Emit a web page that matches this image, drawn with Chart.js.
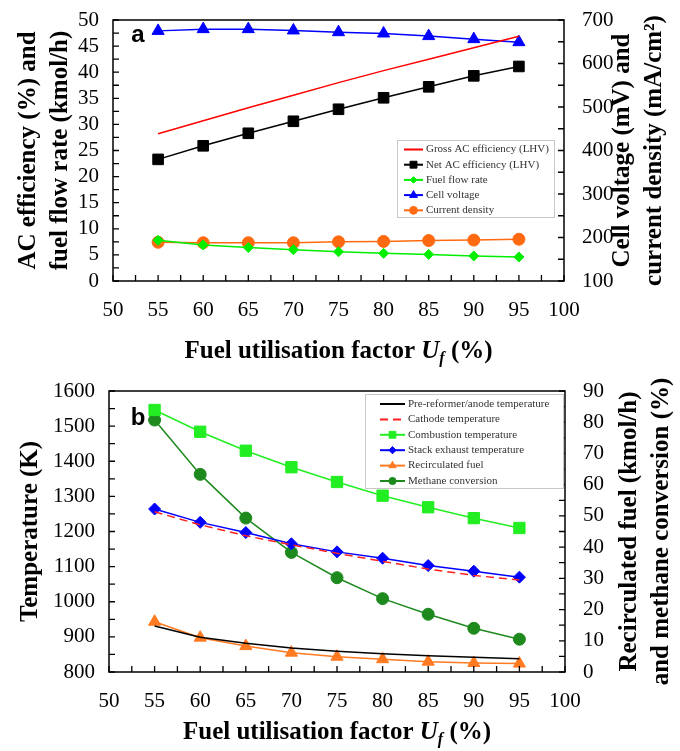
<!DOCTYPE html>
<html lang="en">
<head>
<meta charset="UTF-8">
<title>Fuel utilisation factor</title>
<script src="https://cdn.jsdelivr.net/npm/chart.js"></script>
<style>
  body { margin: 0; background: #fff; }
  .panel { width: 680px; }
  canvas { display: block; }
</style>
</head>
<body>
<div class="panel"><canvas id="chartA" width="680" height="375"></canvas></div>
<div class="panel"><canvas id="chartB" width="680" height="376"></canvas></div>
<script>
const uf = [55, 60, 65, 70, 75, 80, 85, 90, 95];

// panel a
const grossEff = [28.2, 30.7, 33.2, 35.6, 38.0, 40.3, 42.5, 44.7, 46.9];
const netEff = [23.3, 25.9, 28.3, 30.6, 32.9, 35.1, 37.2, 39.3, 41.1];
const fuelFlow = [7.8, 6.9, 6.4, 6.0, 5.6, 5.3, 5.1, 4.8, 4.6];
const cellVoltage = [675, 679, 679, 676, 672, 669, 663, 656, 649];
const currentDensity = [189, 188, 188, 188, 190, 191, 193, 194, 196];

// panel b
const anodeTemp = [931, 899, 882, 868, 859, 852, 846, 842, 838];
const cathodeTemp = [1256, 1219, 1188, 1162, 1138, 1115, 1093, 1075, 1062];
const combustionTemp = [1546, 1484, 1430, 1383, 1341, 1302, 1269, 1238, 1210];
const stackTemp = [1264, 1226, 1197, 1165, 1142, 1124, 1103, 1087, 1070];
const recircFuel = [16.1, 11.0, 8.3, 6.2, 4.9, 4.1, 3.3, 2.9, 2.7];
const methaneConv = [80.7, 63.3, 49.3, 38.3, 30.2, 23.5, 18.5, 14.0, 10.5];

// axis ranges [min, max, major step, minor step]
const xRange = [50, 100, 5, 2.5];
const aLeft = [0, 50, 5, 2.5];
const aRight = [100, 700, 100, 50];
const bLeft = [800, 1600, 100, 50];
const bRight = [0, 90, 10, 5];

const SERIF = '"Liberation Serif", "Times New Roman", serif';

function series(label, ys, color, style, radius, axis, dash) {
  return {
    label: label,
    data: uf.map((x, i) => ({ x: x, y: ys[i] })),
    borderColor: color,
    backgroundColor: color,
    pointBackgroundColor: color,
    pointBorderColor: color,
    pointStyle: style || 'circle',
    pointRadius: radius,
    pointHoverRadius: radius,
    pointBorderWidth: 1,
    borderWidth: 1.5,
    borderDash: dash || [],
    yAxisID: axis,
    tension: 0
  };
}

// frame, inward ticks, titles, legend, panel letter
const deco = {
  id: 'deco',
  afterDraw(chart, args, o) {
    const ctx = chart.ctx;
    const a = chart.chartArea;
    ctx.save();
    ctx.strokeStyle = '#000';
    ctx.lineWidth = 1.5;
    ctx.strokeRect(a.left, a.top, a.right - a.left, a.bottom - a.top);

    // inward tick marks
    ctx.lineWidth = 1.3;
    const tl = 6;
    ctx.beginPath();
    const xs = chart.scales.x;
    for (let v = xRange[0]; v <= xRange[1] + 1e-9; v += xRange[3]) {
      const px = xs.getPixelForValue(v);
      ctx.moveTo(px, a.bottom); ctx.lineTo(px, a.bottom - tl);
    }
    const yl = chart.scales.y;
    for (let v = o.left[0]; v <= o.left[1] + 1e-9; v += o.left[3]) {
      const py = yl.getPixelForValue(v);
      ctx.moveTo(a.left, py); ctx.lineTo(a.left + tl, py);
    }
    const yr = chart.scales.y1;
    for (let v = o.right[0]; v <= o.right[1] + 1e-9; v += o.right[3]) {
      const py = yr.getPixelForValue(v);
      ctx.moveTo(a.right, py); ctx.lineTo(a.right - tl, py);
    }
    ctx.stroke();

    // axis titles
    ctx.fillStyle = '#000';
    ctx.textAlign = 'center';
    ctx.textBaseline = 'middle';
    ctx.font = 'bold 25px ' + SERIF;
    const cy = (a.top + a.bottom) / 2;
    o.leftTitle.forEach((t, i) => {
      ctx.save();
      ctx.translate(o.leftX[i], cy);
      ctx.rotate(-Math.PI / 2);
      ctx.fillText(t, 0, 0);
      ctx.restore();
    });
    o.rightTitle.forEach((t, i) => {
      ctx.save();
      ctx.translate(o.rightX[i], cy);
      ctx.rotate(-Math.PI / 2);
      ctx.fillText(t, 0, 0);
      ctx.restore();
    });

    // x title with italic U and subscript f
    const parts = [
      { t: 'Fuel utilisation factor ', f: 'bold 25px ' + SERIF, dy: 0 },
      { t: 'U', f: 'italic bold 25px ' + SERIF, dy: 0 },
      { t: 'f', f: 'italic bold 16px ' + SERIF, dy: 7 },
      { t: ' (%)', f: 'bold 25px ' + SERIF, dy: 0 }
    ];
    let w = 0;
    parts.forEach(p => { ctx.font = p.f; w += ctx.measureText(p.t).width; });
    let x = (a.left + a.right) / 2 - w / 2;
    ctx.textAlign = 'left';
    parts.forEach(p => {
      ctx.font = p.f;
      ctx.fillText(p.t, x, o.xTitleY + p.dy);
      x += ctx.measureText(p.t).width;
    });

    // panel letter
    ctx.font = 'bold 24px "Liberation Sans", Arial, sans-serif';
    ctx.textAlign = 'center';
    ctx.fillText(o.letter, o.letterPos[0], o.letterPos[1]);

    // legend
    const L = o.legend;
    ctx.fillStyle = '#fff';
    ctx.fillRect(L.x, L.y, L.w, L.h);
    ctx.strokeStyle = '#c8c8c8';
    ctx.lineWidth = 1;
    ctx.strokeRect(L.x + 0.5, L.y + 0.5, L.w, L.h);
    chart.data.datasets.forEach((ds, i) => {
      const ry = L.row0 + i * L.rowH;
      ctx.strokeStyle = ds.borderColor;
      ctx.lineWidth = 2;
      ctx.setLineDash(ds.borderDash || []);
      ctx.beginPath();
      ctx.moveTo(L.lx0, ry); ctx.lineTo(L.lx1, ry);
      ctx.stroke();
      ctx.setLineDash([]);
      if (ds.pointRadius > 0) {
        ctx.fillStyle = ds.pointBackgroundColor;
        ctx.strokeStyle = ds.pointBorderColor;
        ctx.lineWidth = 1;
        Chart.helpers.drawPoint(ctx, {
          pointStyle: ds.pointStyle,
          radius: ds.pointRadius * L.scale,
          rotation: 0,
          borderWidth: 1
        }, (L.lx0 + L.lx1) / 2, ry);
      }
      ctx.fillStyle = '#333';
      ctx.font = L.font + 'px ' + SERIF;
      ctx.textAlign = 'left';
      ctx.fillText(ds.label, L.tx, ry);
    });
    ctx.restore();
  }
};

const plain = v => String(v);

function axis(r, pos, pad, width) {
  return {
    type: 'linear',
    position: pos,
    min: r[0], max: r[1],
    ticks: { stepSize: r[2], padding: pad, color: '#000', font: { family: SERIF, size: 21 }, autoSkip: false, maxRotation: 0, callback: plain },
    grid: { display: false, drawTicks: false },
    border: { display: false },
    afterFit: s => { s.width = width; s.paddingTop = 0; s.paddingBottom = 0; }
  };
}

function makeChart(id, c) {
  const sc = {
    x: {
      type: 'linear', min: xRange[0], max: xRange[1],
      ticks: { stepSize: xRange[2], padding: 17, color: '#000', font: { family: SERIF, size: 21 }, autoSkip: false, maxRotation: 0, callback: plain },
      grid: { display: false, drawTicks: false },
      border: { display: false },
      afterFit: s => { s.height = c.xH; s.paddingLeft = 0; s.paddingRight = 0; }
    },
    y: axis(c.deco.left, 'left', 14, c.leftW),
    y1: axis(c.deco.right, 'right', 18, c.rightW)
  };
  return new Chart(document.getElementById(id), {
    type: 'line',
    data: { datasets: c.datasets },
    options: {
      responsive: false,
      animation: false,
      layout: { padding: { top: c.top, left: 0, right: 0, bottom: 0 } },
      plugins: {
        legend: { display: false },
        tooltip: { enabled: false },
        deco: c.deco
      },
      scales: sc
    },
    plugins: [deco]
  });
}

makeChart('chartA', {
  top: 20, xH: 94, leftW: 113, rightW: 116,
  datasets: [
    series('Gross AC efficiency (LHV)', grossEff, '#ff0000', 'circle', 0, 'y'),
    series('Net AC efficiency (LHV)', netEff, '#000000', 'rect', 7.5, 'y'),
    series('Fuel flow rate', fuelFlow, '#00ee00', 'rectRot', 5, 'y'),
    series('Cell voltage', cellVoltage, '#0000ff', 'triangle', 7, 'y1'),
    series('Current density', currentDensity, '#ff6a10', 'circle', 6, 'y1')
  ],
  deco: {
    left: aLeft, right: aRight,
    leftTitle: ['AC efficiency (%) and', 'fuel flow rate (kmol/h)'], leftX: [29, 61],
    rightTitle: ['Cell voltage (mV) and', 'current density (mA/cm²)'], rightX: [623, 655],
    xTitleY: 352,
    letter: 'a', letterPos: [138, 35],
    legend: { x: 397, y: 140, w: 157, h: 77, row0: 149.5, rowH: 15.2, lx0: 404, lx1: 423, tx: 426, scale: 0.65, font: 11 }
  }
});

makeChart('chartB', {
  top: 16, xH: 79, leftW: 109, rightW: 115,
  datasets: [
    series('Pre-reformer/anode temperature', anodeTemp, '#000000', 'circle', 0, 'y'),
    series('Cathode temperature', cathodeTemp, '#ff2020', 'circle', 0, 'y', [8, 5]),
    series('Combustion temperature', combustionTemp, '#22ee22', 'rect', 8, 'y'),
    series('Stack exhaust temperature', stackTemp, '#0000ff', 'rectRot', 6, 'y'),
    series('Recirculated fuel', recircFuel, '#ff7a20', 'triangle', 7, 'y1'),
    series('Methane conversion', methaneConv, '#1e8a1e', 'circle', 6, 'y1')
  ],
  deco: {
    left: bLeft, right: bRight,
    leftTitle: ['Temperature (K)'], leftX: [31],
    rightTitle: ['Recirculated fuel (kmol/h)', 'and methane conversion (%)'], rightX: [630, 662],
    xTitleY: 358,
    letter: 'b', letterPos: [138, 43],
    legend: { x: 365, y: 19, w: 198, h: 94, row0: 29, rowH: 15.4, lx0: 380, lx1: 405, tx: 408, scale: 0.6, font: 11 }
  }
});
</script>
</body>
</html>
